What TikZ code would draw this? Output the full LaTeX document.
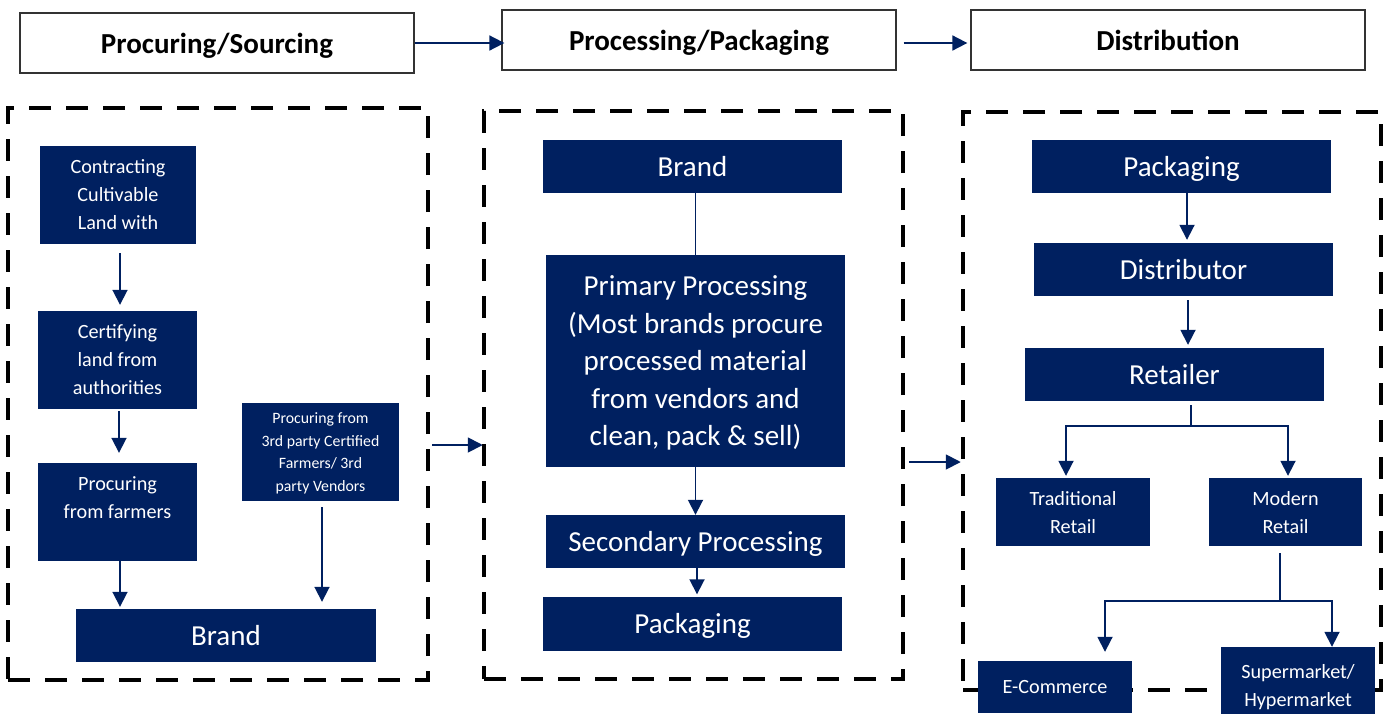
\documentclass[tikz,border=0pt]{standalone}
\usepackage{fontspec}
\setmainfont{Carlito}
\usetikzlibrary{arrows.meta,calc}
\definecolor{navy}{HTML}{002060}

\tikzset{
  hdr/.style={draw=black!80, line width=1.3pt, minimum width=394pt, minimum height=60pt,
              inner sep=0pt, text depth=0pt, font=\bfseries\fontsize{29}{34}\selectfont},
  grp/.style={draw=black, line width=4.5pt, dash pattern=on 22pt off 15pt, inner sep=0pt},
  blk/.style={fill=navy, text=white, inner sep=0pt, align=center, text depth=0pt},
  big/.style={blk, font=\fontsize{29}{37.5}\selectfont},
  mid/.style={blk, font=\fontsize{20.2}{28}\selectfont},
  sml/.style={blk, font=\fontsize{15.8}{22.5}\selectfont},
  arr/.style={draw=navy, line width=1.8pt, -{Triangle[length=15pt,width=15pt]}},
  lnk/.style={draw=navy, line width=1.8pt},
}

\begin{document}
\begin{tikzpicture}[x=1pt,y=-1pt]
\useasboundingbox (0,0) rectangle (1394,713);

% stage headers
\node[hdr] (h1) at (217,43)  {Procuring/Sourcing};
\node[hdr] (h2) at (699,40)  {Processing/Packaging};
\node[hdr] (h3) at (1168,40) {Distribution};
\draw[arr] (h1.east) -- ($(h2.west |- h1.east)+(3,0)$);
\draw[arr] ($(h2.east)+(7,3)$) -- ($(h3.west)+(-3,3)$);

% dashed stage groups
\node[grp, minimum width=420pt, minimum height=572pt] (lg) at (218,394) {};
\node[grp, minimum width=419pt, minimum height=568pt] (mg) at (693.5,395) {};
\node[grp, minimum width=418pt, minimum height=578pt] (rg) at (1172,401) {};
\draw[arr] ($(lg.east)+(2,51)$) -- ($(mg.west)+(1,50)$);
\draw[arr] ($(mg.east)+(4,67)$) -- ($(rg.west)+(0,61)$);

% procuring / sourcing
\node[mid, minimum width=156pt, minimum height=98pt] (c1) at (118,195)
  {Contracting\\Cultivable\\Land with};
\node[mid, minimum width=159pt, minimum height=98pt] (c2) at (117.5,360)
  {Certifying\\land from\\authorities};
\node[mid, minimum width=159pt, minimum height=98pt] (c3) at (117.5,512)
  {Procuring\\from farmers\\\mbox{}};
\node[sml, minimum width=157pt, minimum height=98pt] (c4) at (320.5,452)
  {Procuring from\\3rd party Certified\\Farmers/ 3rd\\party Vendors};
\node[big, minimum width=300pt, minimum height=53pt] (c5) at (226,635.5) {Brand};

\draw[arr] ($(c1.south)+(2,9)$) -- ($(c2.north)+(2.5,-6)$);
\draw[arr] ($(c2.south)+(1.5,2)$) -- ($(c3.north)+(1.5,-10)$);
\draw[arr] ($(c3.south)+(2.5,0)$) -- ($(c3.south |- c5.north)+(2.5,-2)$);
\draw[arr] ($(c4.south)+(1.5,6)$) -- ($(c4.south |- c5.north)+(1.5,-7)$);

% processing / packaging
\node[big, minimum width=299pt, minimum height=53pt] (m1) at (692.5,166.5) {Brand};
\node[big, minimum width=299pt, minimum height=212pt] (m2) at (695.5,361)
  {Primary Processing\\(Most brands procure\\processed material\\from vendors and\\clean, pack \& sell)};
\node[big, minimum width=299pt, minimum height=53pt] (m3) at (695.5,541.5) {Secondary Processing};
\node[big, minimum width=299pt, minimum height=54pt] (m4) at (692.5,623.5) {Packaging};

\draw[lnk] (m2.north |- m1.south) -- (m2.north);
\draw[arr] (m2.south) -- (m3.north);
\draw[arr] ($(m3.south)+(1.5,0)$) -- ($(m3.south |- m4.north)+(1.5,-2)$);

% distribution
\node[big, minimum width=299pt, minimum height=53pt] (r1) at (1181.5,166.5) {Packaging};
\node[big, minimum width=299pt, minimum height=53pt] (r2) at (1183.5,269.5) {Distributor};
\node[big, minimum width=299pt, minimum height=53pt] (r3) at (1174.5,374.5) {Retailer};
\node[mid, minimum width=154pt, minimum height=68pt] (r4) at (1073,512) {Traditional\\Retail};
\node[mid, minimum width=153pt, minimum height=68pt] (r5) at (1285.5,512) {Modern\\Retail};
\node[mid, minimum width=154pt, minimum height=52pt] (r6) at (1055,687) {E-Commerce};
\node[mid, minimum width=154pt, minimum height=76pt] (r7) at (1298,685) {Supermarket/\\Hypermarket};

\draw[arr] ($(r2.north |- r1.south)+(3.5,0)$) -- ($(r2.north)+(3.5,-3)$);
\draw[arr] ($(r2.south)+(4.5,4)$) -- ($(r2.south |- r3.north)+(4.5,-3)$);

\draw[lnk] ($(r3.south)+(16.5,4)$) -- ++(0,21) coordinate (fk1);
\draw[arr] (fk1) -| ($(r4.north)+(-7,-2)$);
\draw[arr] (fk1) -| ($(r5.north)+(2.5,-2)$);

\draw[lnk] ($(r5.south)+(-5.5,7)$) -- ++(0,48) coordinate (fk2);
\draw[arr] (fk2) -| ($(r6.north)+(50,-9)$);
\draw[arr] (fk2) -| ($(r7.north)+(34,0)$);
\end{tikzpicture}
\end{document}
